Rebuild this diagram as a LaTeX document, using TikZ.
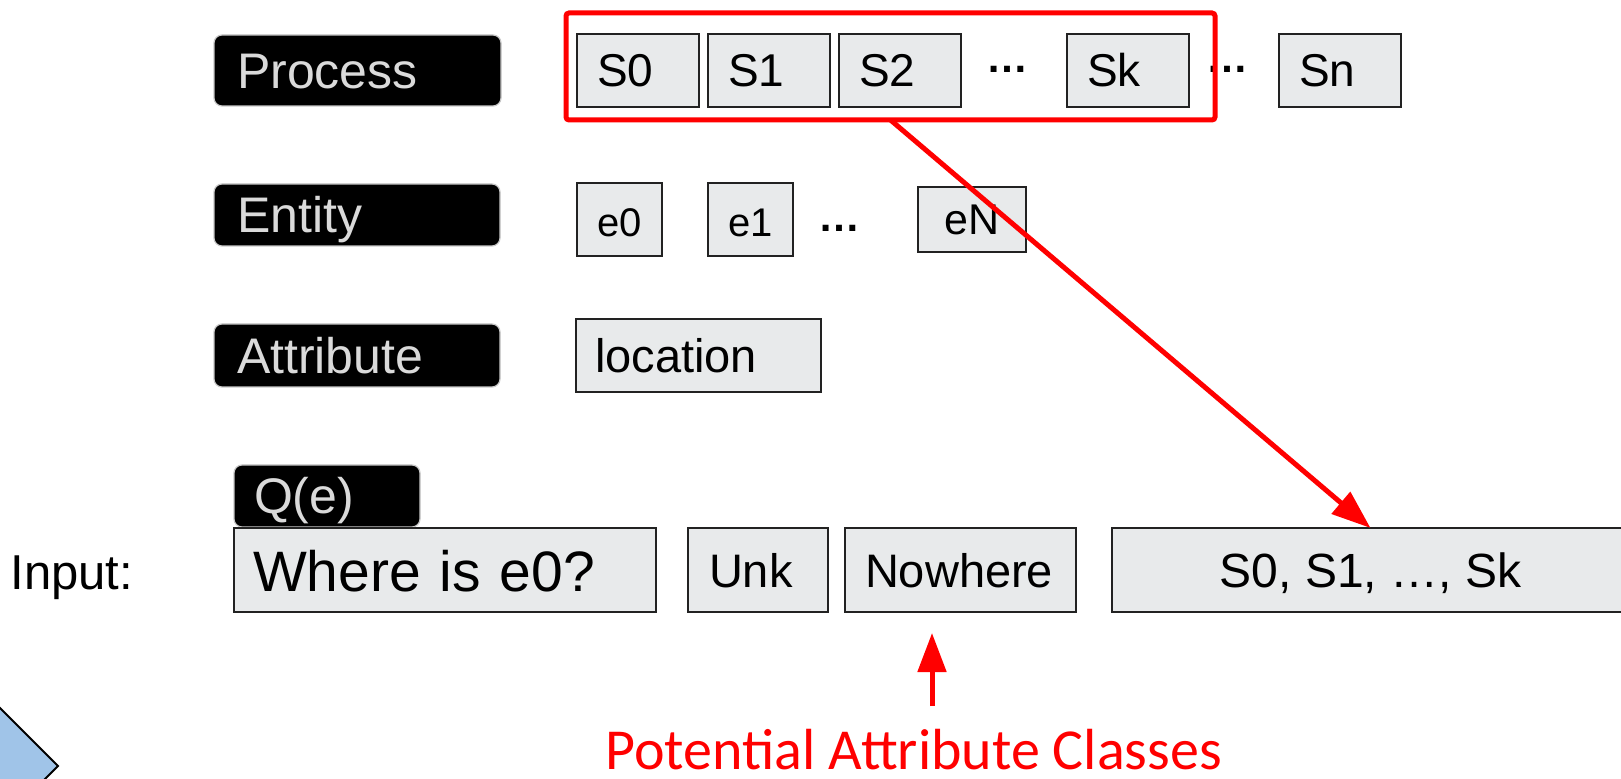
\documentclass[tikz,border=0pt]{standalone}
\usepackage{fontspec}
\setmainfont{Liberation Sans}
\newfontfamily\calib{Carlito}
\usetikzlibrary{arrows.meta}
\definecolor{cellgray}{RGB}{232,234,235}
\definecolor{celledge}{RGB}{34,34,34}
\definecolor{tagtext}{RGB}{218,218,218}
\definecolor{tagedge}{RGB}{200,200,200}
\definecolor{diamondblue}{RGB}{160,196,232}
\definecolor{alertred}{RGB}{255,0,0}
\begin{document}
\begin{tikzpicture}[x=0.5pt,y=-0.5pt,
  tag/.style={fill=black, draw=tagedge, line width=0.6pt, rounded corners=4pt,
    text=tagtext, font=\fontsize{25}{25}\selectfont, anchor=north west,
    inner xsep=11.5pt, inner ysep=0pt, outer sep=0pt, align=left,
    text height=18pt, text depth=0pt},
  cell/.style={fill=cellgray, draw=celledge, line width=1pt, anchor=north west,
    inner ysep=0pt, outer sep=0pt, text depth=0pt},
  lcell/.style={cell, align=left},
  dots/.style={font=\bfseries\fontsize{21}{21}\selectfont, inner sep=0pt},
  redline/.style={draw=alertred, line width=2.5pt},
  redarrow/.style={redline, -{Triangle[length=19.5pt,width=14pt]}}
]
\useasboundingbox (0,0) rectangle (1621,779);
\fill[white] (0,0) rectangle (1621,779);
\clip (0,0) rectangle (1621,779);

% row labels
\node[tag, minimum width=143.5pt, minimum height=35.5pt, text width=120.5pt] (process) at (214,35) {Process};
\node[tag, minimum width=143pt, minimum height=31pt, text width=120pt] (entity) at (214,184) {Entity};
\node[tag, minimum width=143pt, minimum height=31.5pt, text width=120pt] (attribute) at (214,324) {Attribute};
\node[tag, minimum width=93pt, minimum height=31pt, text width=73pt, inner xsep=10pt] (qe) at (234,465) {Q(e)};

% process steps
\tikzset{scell/.style={lcell, font=\fontsize{23}{23}\selectfont, minimum width=61pt, minimum height=36.5pt,
    inner xsep=10pt, text width=41pt, text height=16.5pt}}
\node[scell] (s0) at (577,34) {S0};
\node[scell] (s1) at (708,34) {S1};
\node[scell] (s2) at (839,34) {S2};
\node[dots] (dotsa) at (1007,69) {…};
\node[scell] (sk) at (1067,34) {Sk};
\node[dots] (dotsb) at (1227,69) {…};
\node[scell] (sn) at (1279,34) {Sn};

% entities
\node[cell, font=\fontsize{20}{20}\selectfont, minimum width=42.5pt, minimum height=36.5pt, text height=17pt] (e0) at (577,183) {e0};
\node[cell, font=\fontsize{20}{20}\selectfont, minimum width=42.5pt, minimum height=36.5pt, text height=17pt] (e1) at (708,183) {e1};
\node[dots] (dotse) at (839,228) {…};
\node[cell, font=\fontsize{21.5}{21.5}\selectfont, minimum width=54pt, minimum height=32.5pt, text height=15.5pt] (eN) at (918,187) {eN};

% attribute
\node[lcell, font=\fontsize{23.5}{23.5}\selectfont, minimum width=122.5pt, minimum height=36.5pt,
  inner xsep=9.5pt, text width=103.5pt, text height=17pt] (location) at (576,319) {location};

% input row
\node[anchor=base west, inner sep=0pt, font=\fontsize{24.5}{24.5}\selectfont] (input) at (10,590) {Input:};
\node[lcell, font=\fontsize{28.5}{28.5}\selectfont, minimum width=211pt, minimum height=42pt,
  inner xsep=9.5pt, text width=192pt, text height=21.5pt] (where) at (234,528) {Where is e0?};
\node[lcell, font=\fontsize{23.5}{23.5}\selectfont, minimum width=70pt, minimum height=42pt,
  inner xsep=10.5pt, text width=49pt, text height=17.5pt] (unk) at (688,528) {Unk};
\node[lcell, font=\fontsize{23.5}{23.5}\selectfont, minimum width=115.5pt, minimum height=42pt,
  inner xsep=10pt, text width=95.5pt, text height=17.5pt] (nowhere) at (845,528) {Nowhere};
\node[cell, font=\fontsize{24}{24}\selectfont, minimum width=258.5pt, minimum height=42pt,
  text height=17.5pt] (slist) at (1112,528) {S0, S1, …, Sk};

% highlighted group of steps
\node[draw=alertred, line width=2.5pt, rounded corners=1.5pt, anchor=north west, outer sep=0pt,
  minimum width=324.5pt, minimum height=53.5pt, inner sep=0pt] (group) at (566,13) {};

% caption and pointers
\node[anchor=base west, inner sep=0pt, text depth=0pt, text=alertred, font=\calib\fontsize{29}{29}\selectfont] (pac) at (605,769) {Potential Attribute Classes};
\coordinate (upfoot) at (932,706);
\coordinate (uptip) at (932,633);
\draw[redarrow] (upfoot) -- (uptip);
\draw[redarrow] (group.south) -- (slist.north);

% corner shape
\draw[fill=diamondblue, line width=0.9pt, draw=black] (58,766) -- (0,708) -- (-58,766) -- (0,824) -- cycle;
\end{tikzpicture}
\end{document}
